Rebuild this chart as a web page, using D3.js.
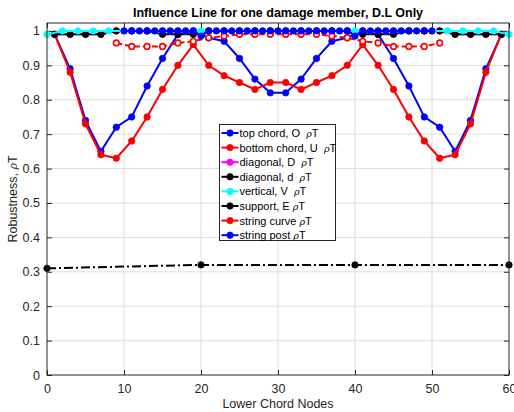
<!DOCTYPE html>
<html>
<head>
<meta charset="utf-8">
<script src="https://cdn.jsdelivr.net/npm/d3@7"></script>
<style>
  html, body { margin: 0; padding: 0; background: #fff; }
  svg text { font-family: 'Liberation Sans', Arial, Helvetica, sans-serif; }
</style>
</head>
<body>
<div id="chart"></div>
<script>
(function () {
  'use strict';

  // x positions of the members (lower chord nodes)
  const oddNodes = [1,3,5,7,9,11,13,15,17,19,21,23,25,27,29,31,33,35,37,39,41,43,45,47,49,51,53,55,57,59];
  const evenNodes = [0,2,4,6,8,10,12,14,16,18,20,22,24,26,28,30,32,34,36,38,40,42,44,46,48,50,52,54,56,58,60];
  const curveNodes = [9,11,13,15,17,19,21,23,25,27,29,31,33,35,37,39,41,43,45,47,49,51];
  const postNodes = [10,11,12,13,14,15,16,17,18,19,20,21,22,23,24,25,26,27,28,29,30,
                     31,32,33,34,35,36,37,38,39,40,41,42,43,44,45,46,47,48,49,50];
  const supportNodes = [0,20,40,60];

  // robustness values
  const topChord = [0.99,0.89,0.74,0.65,0.72,0.75,0.84,0.92,0.99,1.00,0.98,0.97,0.92,0.86,0.82,
                    0.82,0.86,0.92,0.97,0.98,1.00,0.99,0.92,0.84,0.75,0.72,0.65,0.74,0.89,0.99];
  const bottomChord = [0.99,0.88,0.73,0.64,0.63,0.68,0.75,0.83,0.90,0.96,0.90,0.87,0.85,0.83,0.85,
                       0.85,0.83,0.85,0.87,0.90,0.96,0.90,0.83,0.75,0.68,0.63,0.64,0.73,0.88,0.99];
  const diagonalD = [0.99,0.99,0.99,0.99,1,1,1,1,1,1,1,1,1,1,1,
                     1,1,1,1,1,1,1,1,1,1,1,0.99,0.99,0.99,0.99];
  const diagonald = [0.99,0.99,0.99,0.99,1,1,1,0.99,0.99,0.99,1,1,1,1,1,
                     1,1,1,1,1,0.99,0.99,0.99,1,1,1,0.99,0.99,0.99,0.99];
  const vertical = [0.99,1,1,1,1,1,1,1,1,1,1,1,1,1,1,1,1,1,1,1,1,1,1,1,1,1,1,1,1,1,0.99];
  const support = [0.31,0.32,0.32,0.32];
  const stringCurve = [0.965,0.955,0.955,0.955,0.965,0.97,0.98,0.985,0.99,0.99,0.99,
                       0.99,0.99,0.99,0.985,0.98,0.97,0.965,0.955,0.955,0.955,0.965];
  const stringPost = [1,1,1,1,1,1,1,1,1,1,0.985,1,1,1,1,1,1,1,1,1,1,
                      1,1,1,1,1,1,1,1,1,0.985,1,1,1,1,1,1,1,1,1,1];

  const xTicks = [0,10,20,30,40,50,60];
  const yTicks = [0,0.1,0.2,0.3,0.4,0.5,0.6,0.7,0.8,0.9,1];
  const yTickLabels = ['0','0.1','0.2','0.3','0.4','0.5','0.6','0.7','0.8','0.9','1'];

  const series = [
    { name: 'top chord, O', gap: true, xs: oddNodes, ys: topChord, color: '#0000ff' },
    { name: 'bottom chord, U', gap: true, xs: oddNodes, ys: bottomChord, color: '#ff0000' },
    { name: 'diagonal, D', gap: true, xs: oddNodes, ys: diagonalD, color: '#ff00ff' },
    { name: 'diagonal, d', gap: true, xs: oddNodes, ys: diagonald, color: '#000000' },
    { name: 'vertical, V', gap: true, xs: evenNodes, ys: vertical, color: '#00ffff' },
    { name: 'support, E', xs: supportNodes, ys: support, color: '#000000', dash: '9,3,2,3' },
    { name: 'string curve', xs: curveNodes, ys: stringCurve, color: '#ff0000', dash: '6,3', open: true },
    { name: 'string post', xs: postNodes, ys: stringPost, color: '#0000ff' },
  ];

  const W = 514, H = 412;
  const margin = { top: 23, right: 5, bottom: 37, left: 47 };
  const innerW = W - margin.left - margin.right;
  const innerH = H - margin.top - margin.bottom;

  const svg = d3.select('#chart').append('svg').attr('width', W).attr('height', H);
  const g = svg.append('g').attr('transform', `translate(${margin.left},${margin.top})`);

  const x = d3.scaleLinear().domain([0, 60]).range([0, innerW]);
  const y = d3.scaleLinear().domain([0, 1.023]).range([innerH, 0]);

  // grid
  g.append('g').selectAll('line').data(xTicks.slice(1, -1)).enter().append('line')
    .attr('x1', d => x(d)).attr('x2', d => x(d)).attr('y1', 0).attr('y2', innerH)
    .attr('stroke', '#dedede').attr('stroke-width', 1);
  g.append('g').selectAll('line').data(yTicks.slice(1)).enter().append('line')
    .attr('x1', 0).attr('x2', innerW).attr('y1', d => y(d)).attr('y2', d => y(d))
    .attr('stroke', '#dedede').attr('stroke-width', 1);

  // axes (ticks point inward, box on)
  const axCol = '#262626';
  const ax = (sel) => {
    sel.select('.domain').remove();
    sel.selectAll('line').attr('stroke', axCol);
    sel.selectAll('text').attr('fill', axCol).style('font-size', '12.5px');
  };
  g.append('g').attr('transform', `translate(0,${innerH})`)
    .call(d3.axisBottom(x).tickValues(xTicks).tickSize(-5).tickPadding(9).tickFormat(d3.format('d')))
    .call(ax);
  g.append('g').call(d3.axisTop(x).tickValues(xTicks).tickSize(-5).tickFormat(''))
    .call(ax);
  g.append('g')
    .call(d3.axisLeft(y).tickValues(yTicks).tickSize(-5).tickPadding(7).tickFormat((d, i) => yTickLabels[i]))
    .call(ax);
  g.append('g').attr('transform', `translate(${innerW},0)`)
    .call(d3.axisRight(y).tickValues(yTicks).tickSize(-5).tickFormat(''))
    .call(ax);

  // series
  const line = d3.line().x(d => x(d[0])).y(d => y(d[1]));
  series.forEach(s => {
    const pts = s.xs.map((v, i) => [v, s.ys[i]]);
    g.append('path').datum(pts).attr('fill', 'none').attr('stroke', s.color)
      .attr('stroke-width', 2).attr('stroke-dasharray', s.dash || null).attr('d', line);
    g.append('g').selectAll('circle').data(pts).enter().append('circle')
      .attr('cx', d => x(d[0])).attr('cy', d => y(d[1])).attr('r', s.open ? 2.8 : 3.2)
      .attr('fill', s.open ? '#fff' : s.color)
      .attr('stroke', s.color).attr('stroke-width', s.open ? 1.6 : 0.8);
  });

  // frame
  g.append('rect').attr('width', innerW).attr('height', innerH)
    .attr('fill', 'none').attr('stroke', axCol).attr('stroke-width', 1);

  // legend
  const lg = svg.append('g').attr('transform', 'translate(219.5,124.5)');
  lg.append('rect').attr('width', 116).attr('height', 116)
    .attr('fill', '#fff').attr('stroke', axCol).attr('stroke-width', 1);
  const rowH = 14.6;
  series.forEach((s, i) => {
    const cy = 8.5 + i * rowH;
    lg.append('line').attr('x1', 2).attr('x2', 19).attr('y1', cy).attr('y2', cy)
      .attr('stroke', s.color).attr('stroke-width', 2);
    lg.append('circle').attr('cx', 10.5).attr('cy', cy).attr('r', 3.2)
      .attr('fill', s.color).attr('stroke', s.color).attr('stroke-width', 0.8);
    const t = lg.append('text').attr('x', 20).attr('y', cy + 4)
      .attr('fill', '#000').style('font-size', '11px').style('white-space', 'pre');
    t.append('tspan').text(s.name + (s.gap ? '  ' : ' '));
    t.append('tspan').text('ρ').style('font-style', 'italic').style('font-family', "'DejaVu Serif', serif").style('font-size', '9.5px');
    t.append('tspan').text('T');
  });

  // title and axis labels
  svg.append('text').attr('x', margin.left + innerW / 2).attr('y', 17)
    .attr('text-anchor', 'middle').attr('fill', '#000')
    .style('font-size', '12.5px').style('font-weight', 'bold')
    .text('Influence Line for one damage member, D.L Only');
  svg.append('text').attr('x', margin.left + innerW / 2).attr('y', 408)
    .attr('text-anchor', 'middle').attr('fill', axCol).style('font-size', '12.5px')
    .text('Lower Chord Nodes');
  const yl = svg.append('text').attr('transform', `translate(17,${margin.top + innerH / 2}) rotate(-90)`)
    .attr('text-anchor', 'middle').attr('fill', axCol).style('font-size', '12.5px');
  yl.append('tspan').text('Robustness, ');
  yl.append('tspan').text('ρ').style('font-style', 'italic').style('font-family', "'DejaVu Serif', serif").style('font-size', '11px');
  yl.append('tspan').text('T');
})();
</script>
</body>
</html>
